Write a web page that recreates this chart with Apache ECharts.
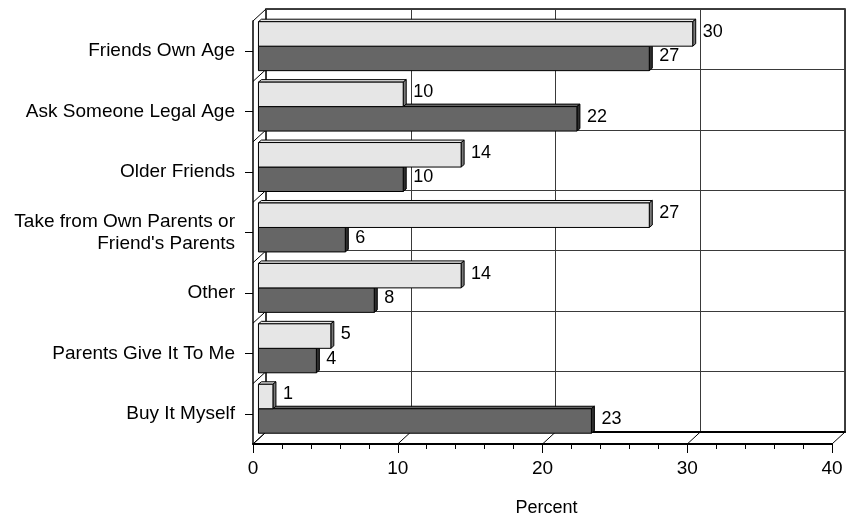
<!DOCTYPE html>
<html>
<head>
<meta charset="utf-8">
<script src="https://cdn.jsdelivr.net/npm/echarts@6/dist/echarts.min.js"></script>
<style>
  html, body { margin: 0; padding: 0; background: #fff; }
  #chart { width: 857px; height: 516px; }
</style>
</head>
<body>
<div id="chart"></div>
<script>
// Sources, listed top to bottom
const categories = [
  'Friends Own Age',
  'Ask Someone Legal Age',
  'Older Friends',
  "Take from Own Parents or\nFriend's Parents",
  'Other',
  'Parents Give It To Me',
  'Buy It Myself'
];
// Upper (light) bar of each pair
const lightValues = [30, 10, 14, 27, 14, 5, 1];
// Lower (dark) bar of each pair
const darkValues = [27, 22, 10, 6, 8, 4, 23];
// Percent axis ticks
const xTicks = [0, 10, 20, 30, 40];

// Pseudo-3D projection settings
const FRONT = { left: 253, top: 21, width: 579, height: 423 };
const DEPTH = [13, -12];          // offset of the back wall from the front plane
const BAR_PLANE = 0.42;           // bars sit this far into the depth
const BAR_SIDE = [3, -2.5];       // thickness of each bar's own top/side faces
const FONT = 'Liberation Sans, Arial, Helvetica, sans-serif';

const chart = echarts.init(document.getElementById('chart'), null, { renderer: 'canvas' });

function gridAt(frac) {
  return {
    left: FRONT.left + DEPTH[0] * frac,
    top: FRONT.top + DEPTH[1] * frac,
    width: FRONT.width,
    height: FRONT.height,
    containLabel: false,
    outerBoundsMode: 'none'
  };
}

function barRenderer(upper, face, side) {
  return function (params, api) {
    const cat = api.value(1);
    const base = api.coord([0, cat]);
    const end = api.coord([api.value(0), cat]);
    const band = api.size([0, 1])[1];
    const h = band * 0.405;
    const y0 = upper ? base[1] - h : base[1];
    const y1 = upper ? base[1] : base[1] + h;
    const x0 = base[0], x1 = end[0];
    const dx = BAR_SIDE[0], dy = BAR_SIDE[1];
    const stroke = { stroke: '#000', lineWidth: 1 };
    return {
      type: 'group',
      children: [
        {
          type: 'polygon',
          shape: { points: [[x0, y0], [x1, y0], [x1 + dx, y0 + dy], [x0 + dx, y0 + dy]] },
          style: Object.assign({ fill: face }, stroke)
        },
        {
          type: 'polygon',
          shape: { points: [[x1, y0], [x1, y1], [x1 + dx, y1 + dy], [x1 + dx, y0 + dy]] },
          style: Object.assign({ fill: side }, stroke)
        },
        {
          type: 'rect',
          shape: { x: x0, y: y0, width: x1 - x0, height: y1 - y0 },
          style: Object.assign({ fill: face }, stroke)
        },
        {
          type: 'text',
          x: x1 + 10,
          y: (y0 + y1) / 2 - 2,
          style: {
            text: String(api.value(0)),
            fill: '#000',
            font: '18px ' + FONT,
            verticalAlign: 'middle',
            align: 'left'
          }
        }
      ]
    };
  };
}

const option = {
  backgroundColor: '#fff',
  animation: false,
  textStyle: { fontFamily: FONT },
  grid: [
    gridAt(0),
    Object.assign(gridAt(1), { show: true, borderColor: '#000', borderWidth: 1.5, backgroundColor: 'transparent' }),
    gridAt(BAR_PLANE)
  ],
  xAxis: [
    {
      gridIndex: 0, type: 'value', min: 0, max: 40, interval: 10,
      axisLine: { show: true, lineStyle: { color: '#000', width: 2 } },
      axisTick: { show: true, length: 9, lineStyle: { color: '#000', width: 1 } },
      minorTick: { show: true, splitNumber: 5, length: 5, lineStyle: { color: '#000', width: 1 } },
      axisLabel: { fontSize: 19, color: '#000', margin: 15, fontFamily: FONT },
      splitLine: { show: false },
      name: 'Percent', nameLocation: 'middle', nameGap: 55,
      nameTextStyle: { fontSize: 18, color: '#000', fontFamily: FONT, padding: [0, 0, 0, 8] }
    },
    {
      gridIndex: 1, type: 'value', min: 0, max: 40, interval: 10,
      axisLine: { show: true, lineStyle: { color: '#000', width: 2 } },
      axisTick: { show: false }, axisLabel: { show: false },
      splitLine: { show: true, lineStyle: { color: '#3a3a3a', width: 1 } }
    },
    { gridIndex: 2, type: 'value', min: 0, max: 40, show: false }
  ],
  yAxis: [
    {
      gridIndex: 0, type: 'category', data: categories, inverse: true,
      axisLine: { show: true, lineStyle: { color: '#000', width: 1.5 } },
      axisTick: { show: true, length: 8, alignWithLabel: true, lineStyle: { color: '#000' } },
      axisLabel: {
        fontSize: 19, color: '#000', margin: 18, lineHeight: 22, align: 'right', fontFamily: FONT
      },
      splitLine: { show: false }
    },
    {
      gridIndex: 1, type: 'category', data: categories, inverse: true,
      axisLine: { show: false }, axisTick: { show: false }, axisLabel: { show: false },
      splitLine: { show: true, lineStyle: { color: '#3a3a3a', width: 1 } }
    },
    { gridIndex: 2, type: 'category', data: categories, inverse: true, show: false }
  ],
  series: [
    {
      // floor edges running back from each major tick
      type: 'custom', xAxisIndex: 0, yAxisIndex: 0, silent: true,
      data: xTicks.map(v => [v, categories.length - 1]),
      encode: { x: 0, y: 1 },
      renderItem: function (params, api) {
        const x = api.coord([api.value(0), 0])[0];
        const y = params.coordSys.y + params.coordSys.height;
        return {
          type: 'line',
          shape: { x1: x, y1: y, x2: x + DEPTH[0], y2: y + DEPTH[1] },
          style: { stroke: '#000', lineWidth: 1 }
        };
      }
    },
    {
      // left wall edges at each category boundary
      type: 'custom', xAxisIndex: 0, yAxisIndex: 0, silent: true,
      data: categories.map((c, i) => [0, i]),
      encode: { x: 0, y: 1 },
      renderItem: function (params, api) {
        const i = api.value(1);
        const p = api.coord([0, i]);
        const band = api.size([0, 1])[1];
        const edges = [p[1] - band / 2];
        if (i === categories.length - 1) edges.push(p[1] + band / 2);
        return {
          type: 'group',
          children: edges.map(y => ({
            type: 'line',
            shape: { x1: p[0], y1: y, x2: p[0] + DEPTH[0], y2: y + DEPTH[1] },
            style: { stroke: '#000', lineWidth: 1 }
          }))
        };
      }
    },
    {
      name: 'Group 2', type: 'custom', xAxisIndex: 2, yAxisIndex: 2,
      data: darkValues.map((v, i) => [v, i]),
      encode: { x: 0, y: 1 },
      renderItem: barRenderer(false, '#666666', '#2e2e2e')
    },
    {
      name: 'Group 1', type: 'custom', xAxisIndex: 2, yAxisIndex: 2,
      data: lightValues.map((v, i) => [v, i]),
      encode: { x: 0, y: 1 },
      renderItem: barRenderer(true, '#e6e6e6', '#7a7a7a')
    }
  ]
};

chart.setOption(option);
</script>
</body>
</html>
